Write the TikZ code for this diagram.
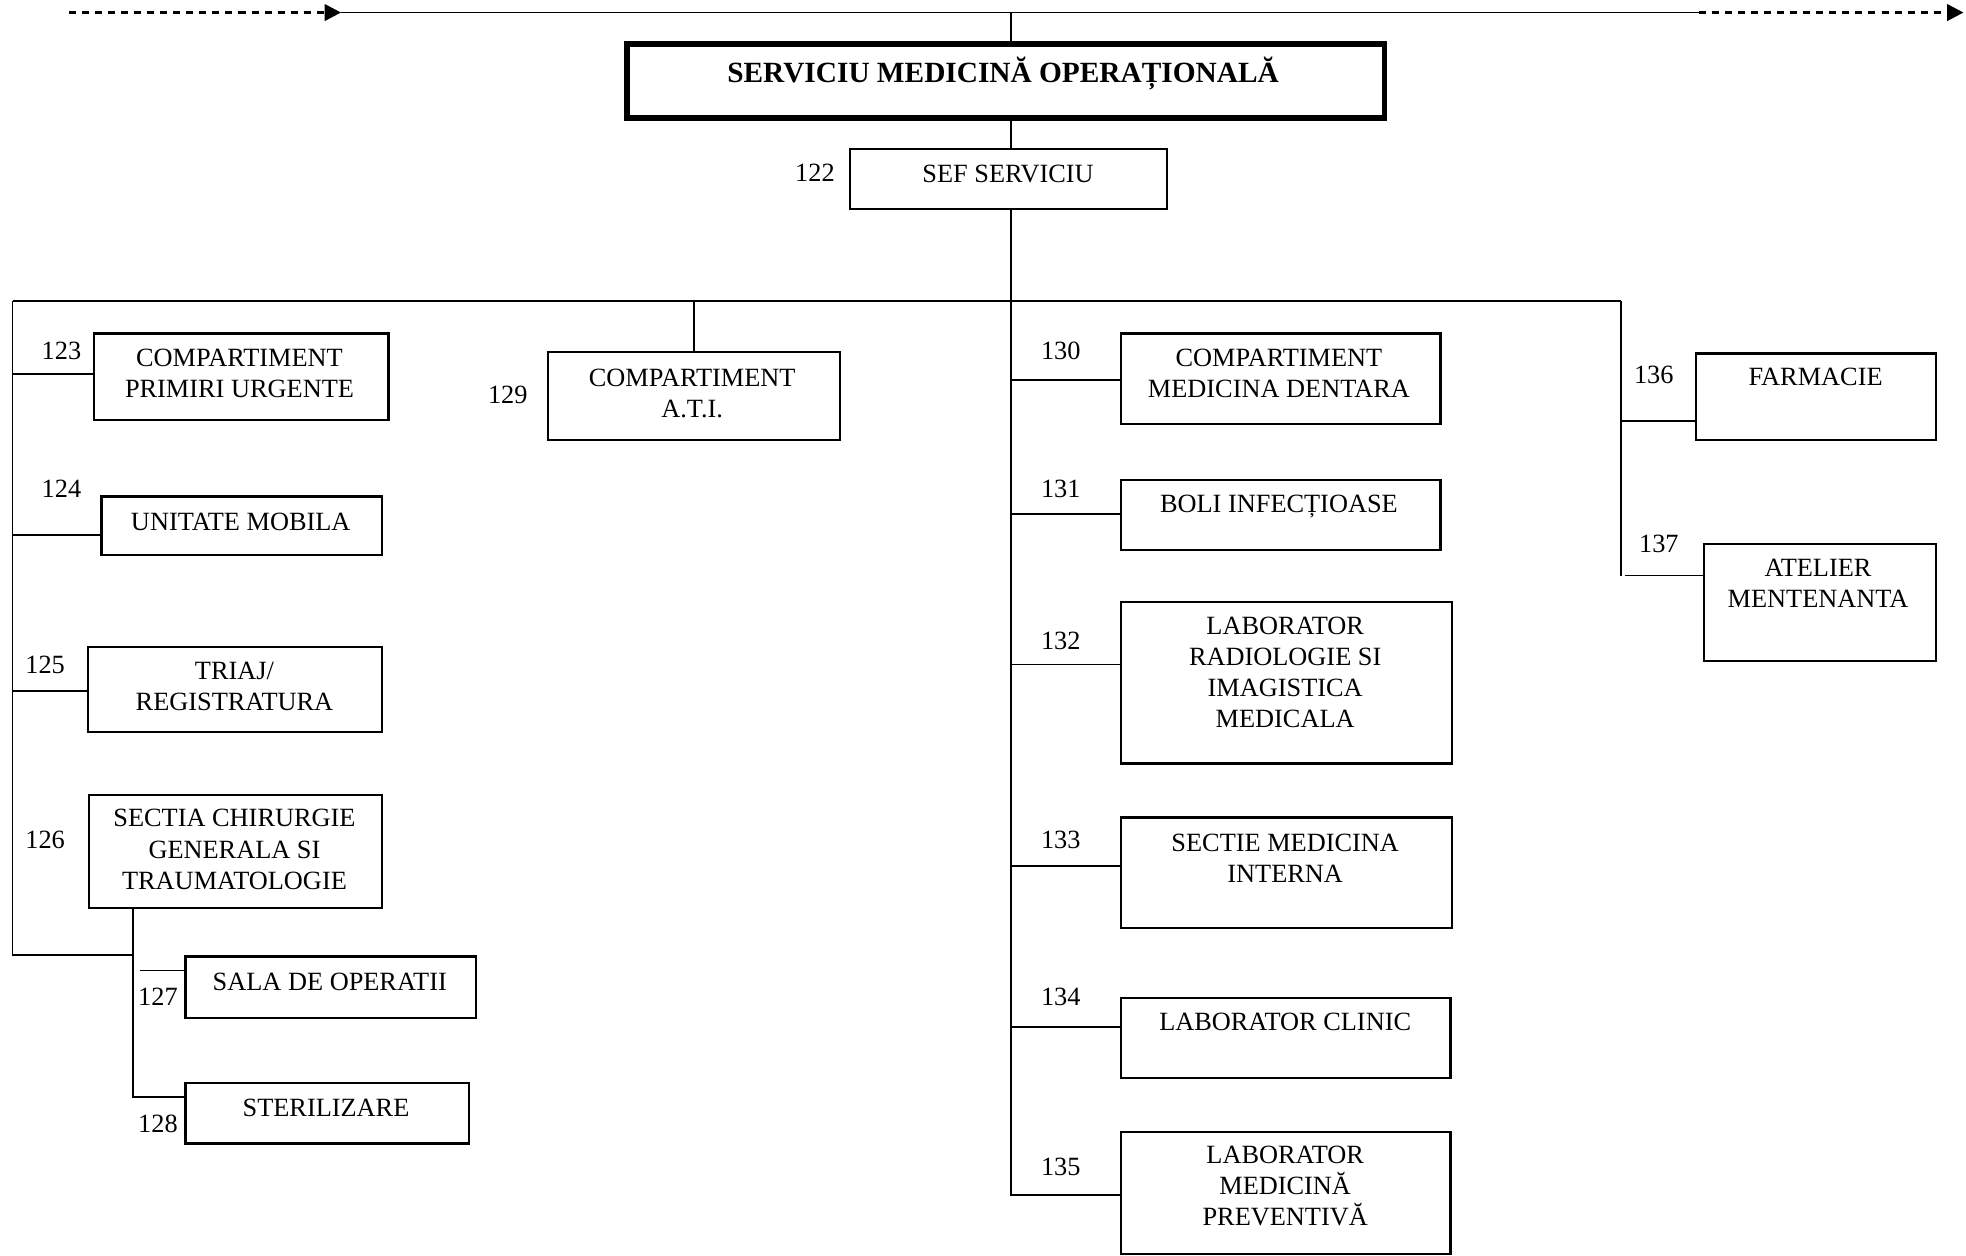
\documentclass[tikz,border=0pt]{standalone}
\usepackage{fontspec}
\setmainfont{Liberation Serif}
\usetikzlibrary{arrows.meta}
\begin{document}
\begin{tikzpicture}[x=0.5pt,y=-0.5pt,
  box/.style={draw, line width=0.9pt, inner sep=0pt, anchor=north west},
  titlebox/.style={draw, line width=2.2pt, inner sep=0pt, anchor=north west},
  txt/.style={align=center, inner sep=0pt, font=\fontsize{10.5pt}{12.4pt}\selectfont},
  ttl/.style={inner sep=0pt, font=\fontsize{11.7pt}{14pt}\selectfont\bfseries},
  num/.style={inner sep=0pt, font=\fontsize{10.5pt}{12.4pt}\selectfont},
  conn/.style={line width=0.75pt},
  dashline/.style={line width=1.1pt, dash pattern=on 2.8pt off 2.4pt, -{Triangle[length=6.5pt,width=6.5pt]}}]
\useasboundingbox (0,0) rectangle (1568,1001);

% ---- boxes ----
\node[titlebox, minimum width=302pt, minimum height=29.5pt] (title) at (498,33) {};
\node[box, minimum width=126.5pt, minimum height=24pt] (sef) at (677,118) {};
\node[box, minimum width=117.5pt, minimum height=34.5pt] (b123) at (74,265) {};
\node[box, minimum width=112pt, minimum height=23.5pt] (b124) at (80,395) {};
\node[box, minimum width=117.5pt, minimum height=34pt] (b125) at (69,515) {};
\node[box, minimum width=117pt, minimum height=45pt] (b126) at (70,633) {};
\node[box, minimum width=116pt, minimum height=24.5pt] (b127) at (147,762) {};
\node[box, minimum width=113pt, minimum height=24pt] (b128) at (147,863) {};
\node[box, minimum width=116.5pt, minimum height=35pt] (b129) at (436,280) {};
\node[box, minimum width=127.5pt, minimum height=36pt] (b130) at (893,265) {};
\node[box, minimum width=127.5pt, minimum height=28pt] (b131) at (893,382) {};
\node[box, minimum width=132pt, minimum height=64.5pt] (b132) at (893,479) {};
\node[box, minimum width=132pt, minimum height=44pt] (b133) at (893,651) {};
\node[box, minimum width=131.5pt, minimum height=32pt] (b134) at (893,795) {};
\node[box, minimum width=131.5pt, minimum height=48.5pt] (b135) at (893,902) {};
\node[box, minimum width=95.5pt, minimum height=34.5pt] (b136) at (1352,281) {};
\node[box, minimum width=92.5pt, minimum height=46.5pt] (b137) at (1358,433) {};

% ---- box texts ----
\node[ttl] (t0) at (800,59) {SERVICIU MEDICINĂ OPERAȚIONALĂ};
\node[txt] (t122) at (804,139) {SEF SERVICIU};
\node[txt] (t123) at (191,297.5) {COMPARTIMENT\\PRIMIRI URGENTE};
\node[txt] (t124) at (192,416) {UNITATE MOBILA};
\node[txt] (t125) at (187,547.5) {TRIAJ/\\REGISTRATURA};
\node[txt] (t126) at (187,677.5) {SECTIA CHIRURGIE\\GENERALA SI\\TRAUMATOLOGIE};
\node[txt] (t127) at (263,783) {SALA DE OPERATII};
\node[txt] (t128) at (260,884) {STERILIZARE};
\node[txt] (t129) at (552,313.5) {COMPARTIMENT\\A.T.I.};
\node[txt] (t130) at (1020,298) {COMPARTIMENT\\MEDICINA DENTARA};
\node[txt] (t131) at (1020,404) {BOLI INFECȚIOASE};
\node[txt] (t132) at (1025,536.5) {LABORATOR\\RADIOLOGIE SI\\IMAGISTICA\\MEDICALA};
\node[txt] (t133) at (1025,684.5) {SECTIE MEDICINA\\INTERNA};
\node[txt] (t134) at (1025,815) {LABORATOR CLINIC};
\node[txt] (t135) at (1025,946) {LABORATOR\\MEDICINĂ\\PREVENTIVĂ};
\node[txt] (t136) at (1448,301) {FARMACIE};
\node[txt] (t137) at (1450,465.5) {ATELIER\\MENTENANTA};

% ---- numbers ----
\node[num] (n122) at (650,138) {122};
\node[num] (n123) at (49,280) {123};
\node[num] (n124) at (49,390) {124};
\node[num] (n125) at (36,530) {125};
\node[num] (n126) at (36,670) {126};
\node[num] (n127) at (126,795) {127};
\node[num] (n128) at (126,896) {128};
\node[num] (n129) at (405,315) {129};
\node[num] (n130) at (846,280) {130};
\node[num] (n131) at (846,390) {131};
\node[num] (n132) at (846,511) {132};
\node[num] (n133) at (846,670) {133};
\node[num] (n134) at (846,795) {134};
\node[num] (n135) at (846,931) {135};
\node[num] (n136) at (1319,299) {136};
\node[num] (n137) at (1323,434) {137};

% ---- coordinates ----
\coordinate (tl0) at (55,10);
\coordinate (tl1) at (272,10);
\coordinate (tl2) at (1355,10);
\coordinate (tl3) at (1566,10);
\coordinate (ttop) at (806,10);
\coordinate (hub) at (806,240);
\coordinate (busL) at (10,240);
\coordinate (busR) at (1293,240);
\coordinate (lbot) at (10,762);
\coordinate (c123) at (10,298);
\coordinate (c124) at (10,427);
\coordinate (c125) at (10,551);
\coordinate (c127) at (112,774);
\coordinate (c128) at (106,875);
\coordinate (c130) at (806,303);
\coordinate (c131) at (806,410);
\coordinate (c132) at (806,530);
\coordinate (c133) at (806,691);
\coordinate (c134) at (806,819);
\coordinate (cbot) at (806,953);
\coordinate (c136) at (1293,336);
\coordinate (rbot) at (1293,459);
\coordinate (c137) at (1296,459);

% ---- top line ----
\draw[dashline] (tl0) -- (tl1);
\draw[conn] (tl1) -- (tl2);
\draw[dashline] (tl2) -- (tl3);
\draw[conn] (ttop) -- (title.north -| ttop);
\draw[conn] (title.south -| ttop) -- (sef.north -| ttop);
\draw[conn] (sef.south -| hub) -- (hub);

% ---- bus ----
\draw[conn] (busL) -- (busR);
\draw[conn] (b129.north) -- (b129.north |- hub);

% left trunk
\draw[conn] (busL) -- (lbot) -- (lbot -| c128);
\draw[conn] (c123) -- (b123.west |- c123);
\draw[conn] (c124) -- (b124.west |- c124);
\draw[conn] (c125) -- (b125.west |- c125);
\draw[conn] (b126.south -| c128) -- (c128) -- (b128.west |- c128);
\draw[conn] (c127) -- (b127.west |- c127);

% center trunk
\draw[conn] (hub) -- (cbot) -- (b135.west |- cbot);
\draw[conn] (c130) -- (b130.west |- c130);
\draw[conn] (c131) -- (b131.west |- c131);
\draw[conn] (c132) -- (b132.west |- c132);
\draw[conn] (c133) -- (b133.west |- c133);
\draw[conn] (c134) -- (b134.west |- c134);

% right trunk
\draw[conn] (busR) -- (rbot);
\draw[conn] (c136) -- (b136.west |- c136);
\draw[conn] (c137) -- (b137.west |- c137);
\end{tikzpicture}
\end{document}
